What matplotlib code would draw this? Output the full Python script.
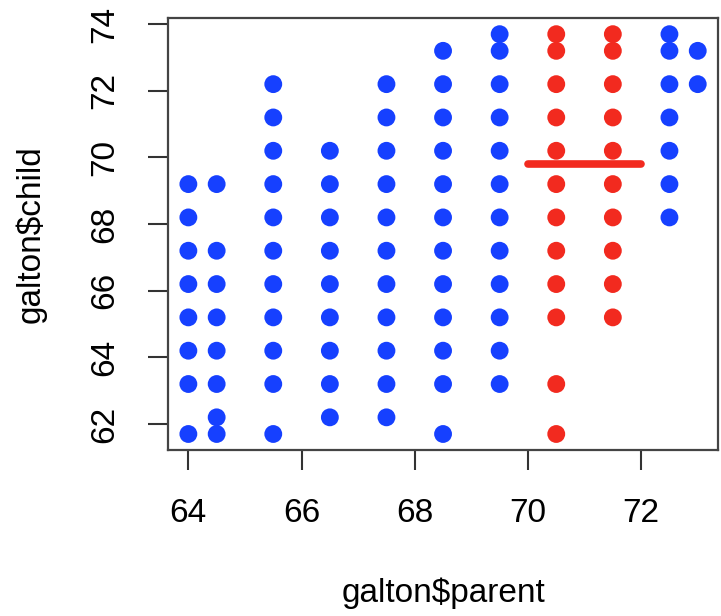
import matplotlib
matplotlib.use("Agg")
import matplotlib.pyplot as plt

# parent height -> list of child heights present in that column
parent_vals = [64.0, 64.5, 65.5, 66.5, 67.5, 68.5, 69.5, 70.5, 71.5, 72.5, 73.0]
child_cols = [
    [61.7, 63.2, 64.2, 65.2, 66.2, 67.2, 68.2, 69.2],
    [61.7, 62.2, 63.2, 64.2, 65.2, 66.2, 67.2, 69.2],
    [61.7, 63.2, 64.2, 65.2, 66.2, 67.2, 68.2, 69.2, 70.2, 71.2, 72.2],
    [62.2, 63.2, 64.2, 65.2, 66.2, 67.2, 68.2, 69.2, 70.2],
    [62.2, 63.2, 64.2, 65.2, 66.2, 67.2, 68.2, 69.2, 70.2, 71.2, 72.2],
    [61.7, 63.2, 64.2, 65.2, 66.2, 67.2, 68.2, 69.2, 70.2, 71.2, 72.2, 73.2],
    [63.2, 64.2, 65.2, 66.2, 67.2, 68.2, 69.2, 70.2, 71.2, 72.2, 73.2, 73.7],
    [61.7, 63.2, 65.2, 66.2, 67.2, 68.2, 69.2, 70.2, 71.2, 72.2, 73.2, 73.7],
    [65.2, 66.2, 67.2, 68.2, 69.2, 70.2, 71.2, 72.2, 73.2, 73.7],
    [68.2, 69.2, 70.2, 71.2, 72.2, 73.2, 73.7],
    [72.2, 73.2],
]
# highlighted range of parents and the mean child height there
sel_lo, sel_hi = 70, 72
sel_mean = 69.8

x_ticks = [64, 66, 68, 70, 72]
y_ticks = [62, 64, 66, 68, 70, 72, 74]

BLUE = "#1640ff"
RED = "#f22a1f"

plt.rcParams["font.family"] = ["Liberation Sans", "DejaVu Sans"]

fig = plt.figure(figsize=(7.21, 6.16), dpi=100)
ax = fig.add_axes([0.233, 0.2695, 0.763, 0.701])

xs, ys, cs = [], [], []
for p, col in zip(parent_vals, child_cols):
    for c in col:
        xs.append(p)
        ys.append(c)
        cs.append(RED if sel_lo <= p <= sel_hi else BLUE)
ax.scatter(xs, ys, s=165, c=cs, edgecolors="none", zorder=2)

ax.plot([sel_lo, sel_hi], [sel_mean, sel_mean], color=RED, lw=5.5,
        solid_capstyle="round", zorder=3)

ax.set_xlim(63.64, 73.36)
ax.set_ylim(61.22, 74.18)
ax.set_xticks(x_ticks)
ax.set_yticks(y_ticks)
ax.set_xticklabels([str(t) for t in x_ticks], fontsize=24)
ax.set_yticklabels([str(t) for t in y_ticks], fontsize=24, rotation=90,
                   va="center")
ax.tick_params(axis="both", length=14.5, width=1.5, color="#333333")
ax.tick_params(axis="x", pad=20)
ax.tick_params(axis="y", pad=20)

for sp in ax.spines.values():
    sp.set_linewidth(1.6)
    sp.set_color("#444444")

ax.set_xlabel("galton$parent", fontsize=24)
ax.set_ylabel("galton$child", fontsize=24)
ax.xaxis.set_label_coords(0.5, -0.331)
ax.yaxis.set_label_coords(-0.249, 0.5)
ax.xaxis.label.set_va("center")
ax.yaxis.label.set_va("center")

fig.savefig("out.png", dpi=100)
